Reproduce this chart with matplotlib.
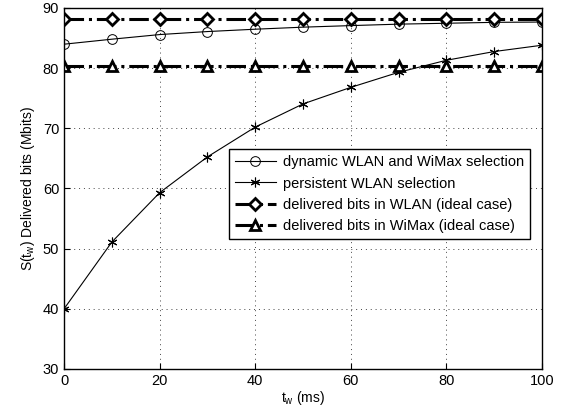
import numpy as np
import matplotlib.pyplot as plt

plt.rcParams['font.family'] = ['Liberation Sans', 'DejaVu Sans']

# temps d'attente t_w (ms)
t_w = [0, 10, 20, 30, 40, 50, 60, 70, 80, 90, 100]

dynamic = [83.97, 84.8, 85.57, 86.07, 86.46, 86.8, 87.06, 87.3, 87.45, 87.6, 87.65]
persistent = [40.0, 51.1, 59.3, 65.25, 70.2, 74.05, 76.8, 79.3, 81.3, 82.75, 83.8]
wlan_ideal = [88.1] * len(t_w)
wimax_ideal = [80.3] * len(t_w)

labels = ["dynamic WLAN and WiMax selection",
          "persistent WLAN selection",
          "delivered bits in WLAN (ideal case)",
          "delivered bits in WiMax (ideal case)"]

fig = plt.figure(figsize=(5.67, 4.16), dpi=100)
ax = fig.add_axes([0.113, 0.113, 0.843, 0.868])

ax.plot(t_w, dynamic, color="black", lw=0.8, marker="o", ms=7,
        mfc="none", mew=0.7, label=labels[0])
ax.plot(t_w, persistent, color="black", lw=0.8, marker=(6, 2, 0), ms=7,
        mew=0.8, label=labels[1])
ax.plot(t_w, wlan_ideal, color="black", lw=2.2, ls="-.", marker="D", ms=6,
        mfc="white", mew=2, label=labels[2])
ax.plot(t_w, wimax_ideal, color="black", lw=2.2, ls="-.", marker="^", ms=7,
        mfc="white", mew=2, label=labels[3])

ax.set_xlim(0, 100)
ax.set_ylim(30, 90)
ax.set_xticks(np.arange(0, 101, 20))
ax.set_yticks(np.arange(30, 91, 10))
ax.tick_params(direction="in", labelsize=10.5, length=4)
ax.grid(True, ls=(0, (1, 4)), color="#444444", lw=0.7)
for s in ax.spines.values():
    s.set_linewidth(1)

ax.set_xlabel("t$_\\mathregular{w}$ (ms)", fontsize=10, labelpad=1)
ax.set_ylabel("S(t$_\\mathregular{w}$) Delivered bits (Mbits)", fontsize=10)

leg = ax.legend(loc="lower right", bbox_to_anchor=(0.99, 0.34), fontsize=10.5,
                fancybox=False, edgecolor="black", framealpha=1,
                handlelength=2.8, handletextpad=0.5, borderpad=0.4,
                labelspacing=0.5)
leg.get_frame().set_linewidth(1)

fig.savefig("out.png", dpi=100)
